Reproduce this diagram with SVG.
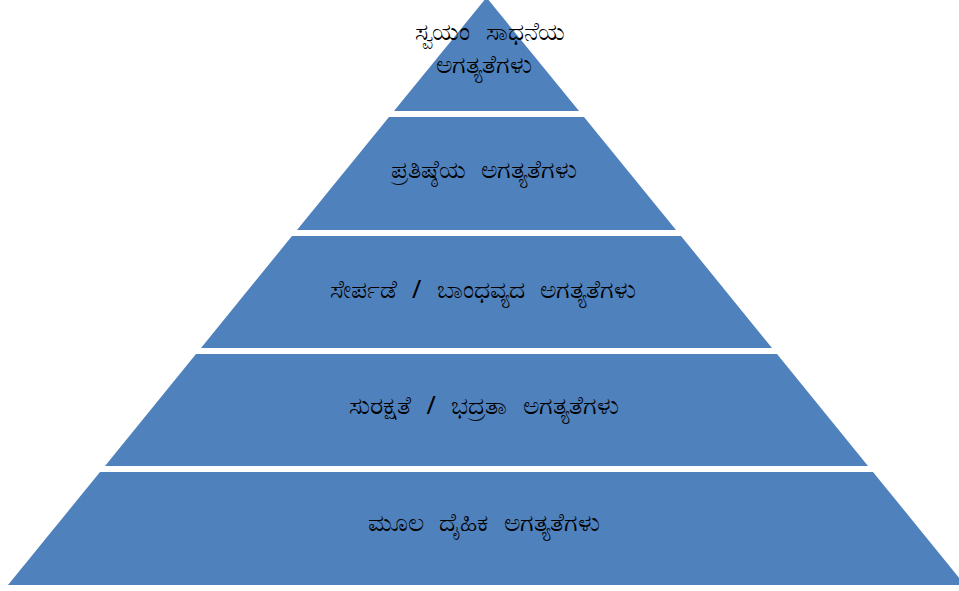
<svg xmlns="http://www.w3.org/2000/svg" width="959" height="591" viewBox="0 0 959 591">
<style>
.lvl{fill:#4F81BD;}
.t{font-family:"Noto Sans","DejaVu Sans",sans-serif;font-size:25px;word-spacing:9px;fill:#000;text-anchor:middle;}
</style>
<rect width="959" height="591" fill="#fff"/>
<g id="level1"><polygon class="lvl" points="486.5,-2.5 579,111 394,111"/>
<text class="t" x="490" y="40">ಸ್ವಯಂ ಸಾಧನೆಯ</text>
<text class="t" x="484" y="73">ಅಗತ್ಯತೆಗಳು</text></g>
<g id="level2"><polygon class="lvl" points="389,117 584,117 676,230 297,230"/>
<text class="t" x="484" y="178">ಪ್ರತಿಷ್ಠೆಯ ಅಗತ್ಯತೆಗಳು</text></g>
<g id="level3"><polygon class="lvl" points="292,236 681,236 772,348 201,348"/>
<text class="t" x="483" y="298">ಸೇರ್ಪಡೆ / ಬಾಂಧವ್ಯದ ಅಗತ್ಯತೆಗಳು</text></g>
<g id="level4"><polygon class="lvl" points="196,354 777,354 868,466 105,466"/>
<text class="t" x="484" y="414">ಸುರಕ್ಷತೆ / ಭದ್ರತಾ ಅಗತ್ಯತೆಗಳು</text></g>
<g id="level5"><polygon class="lvl" points="100,472 873,472 965,585 8,585"/>
<text class="t" x="484" y="531">ಮೂಲ ದೈಹಿಕ ಅಗತ್ಯತೆಗಳು</text></g>
<g id="connectors"></g>
</svg>
